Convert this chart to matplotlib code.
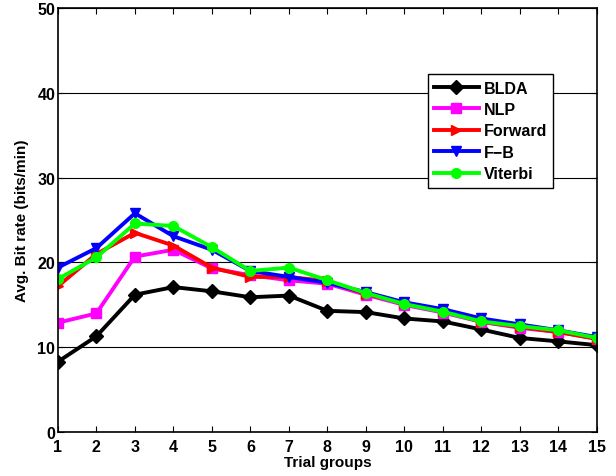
import matplotlib
matplotlib.use("Agg")
import matplotlib.pyplot as plt
import numpy as np

plt.rcParams['font.family'] = ['Liberation Sans', 'DejaVu Sans']
plt.rcParams['font.weight'] = 'bold'

trials = list(range(1, 16))
blda = [8.3, 11.3, 16.2, 17.1, 16.6, 15.9, 16.1, 14.3, 14.15, 13.4, 13.05, 12.1, 11.1, 10.7, 10.25]
nlp = [12.9, 14.0, 20.7, 21.5, 19.3, 18.5, 17.9, 17.5, 16.2, 15.0, 14.1, 13.0, 12.3, 11.8, 11.0]
forward = [17.2, 21.0, 23.5, 22.0, 19.4, 18.3, 18.3, 17.8, 16.3, 15.2, 14.3, 13.0, 12.4, 11.8, 11.0]
fb = [19.4, 21.7, 25.8, 23.1, 21.5, 19.0, 18.3, 17.6, 16.5, 15.3, 14.5, 13.4, 12.7, 12.0, 11.2]
viterbi = [18.05, 20.6, 24.6, 24.3, 21.8, 19.0, 19.4, 17.9, 16.4, 15.1, 14.2, 13.05, 12.5, 12.0, 11.1]

series = [
    ("BLDA", blda, "black", "D"),
    ("NLP", nlp, "#ff00ff", "s"),
    ("Forward", forward, "red", ">"),
    ("F\u2212B", fb, "blue", "v"),
    ("Viterbi", viterbi, "#00ff00", "o"),
]

fig = plt.figure(figsize=(6.16, 4.77), dpi=100)
ax = fig.add_axes([0.094, 0.092, 0.875, 0.889])

for name, vals, col, mk in series:
    ax.plot(trials, vals, color=col, marker=mk, markersize=7, linewidth=2.8, label=name)

ax.set_xlim(1, 15)
ax.set_ylim(0, 50)
ax.set_xticks(trials)
ax.set_yticks(np.arange(0, 51, 10))
ax.yaxis.grid(True, color='black', linewidth=0.8)
ax.set_axisbelow(True)
ax.tick_params(direction='in', top=True, right=True, labelsize=11.5, length=4, pad=2)
ax.tick_params(axis='x', pad=5)
for lbl in ax.get_xticklabels() + ax.get_yticklabels():
    lbl.set_fontweight('bold')
ax.set_xlabel("Trial groups", fontsize=11, fontweight='bold', labelpad=1)
ax.set_ylabel("Avg. Bit rate (bits/min)", fontsize=11, fontweight='bold', labelpad=6)
for sp in ax.spines.values():
    sp.set_linewidth(1.2)

leg = ax.legend(loc='upper left', bbox_to_anchor=(0.686, 0.844), fancybox=False,
                edgecolor='black', framealpha=1, fontsize=11.5, handlelength=2.8,
                borderpad=0.4, labelspacing=0.4, handletextpad=0.3, borderaxespad=0)
leg.get_frame().set_linewidth(1.0)
for t in leg.get_texts():
    t.set_fontweight('bold')

fig.savefig("out.png", dpi=100)
